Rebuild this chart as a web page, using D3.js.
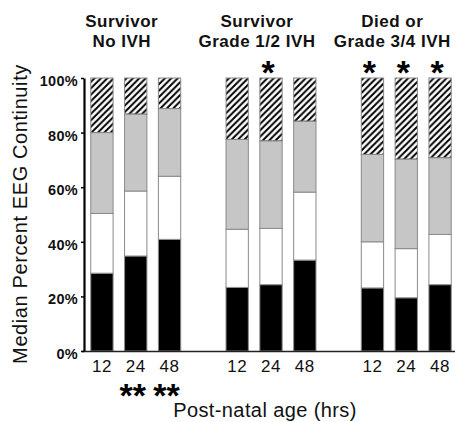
<!DOCTYPE html>
<html>
<head>
<meta charset="utf-8">
<script src="https://cdn.jsdelivr.net/npm/d3@7"></script>
<style>
  body { margin: 0; background: #fff; }
  svg { display: block; font-family: "Liberation Sans", Arial, sans-serif; }
</style>
</head>
<body>
<script>
// groups and time points
var groupTitles = [["Survivor", "No IVH"], ["Survivor", "Grade 1/2 IVH"], ["Died or", "Grade 3/4 IVH"]];
var hours = ["12", "24", "48"];

// segment sizes (percent), bottom to top, one value per bar
var blackSeg   = [28.5, 34.8, 40.9, 23.3, 24.3, 33.3, 23.1, 19.5, 24.3];
var whiteSeg   = [21.9, 23.8, 23.1, 21.3, 20.6, 24.9, 16.9, 18.0, 18.4];
var graySeg    = [29.6, 28.2, 24.8, 32.9, 32.1, 26.0, 32.0, 32.8, 28.1];
var hatchedSeg = [20.0, 13.2, 11.2, 22.5, 23.0, 15.8, 28.0, 29.7, 29.2];

var yTicks = [0, 20, 40, 60, 80, 100];

// significance marks: bar index -> text
var starsAbove = [{bar: 4, text: "*"}, {bar: 6, text: "*"}, {bar: 7, text: "*"}, {bar: 8, text: "*"}];
var starsBelow = [{bar: 1, text: "**"}, {bar: 2, text: "**"}];

var width = 455, height = 422;
var font = "'Liberation Sans', Arial, sans-serif";

var svg = d3.select("body").append("svg")
    .attr("width", width)
    .attr("height", height);

// hatch pattern
var defs = svg.append("defs");
defs.append("pattern")
    .attr("id", "hatch")
    .attr("patternUnits", "userSpaceOnUse")
    .attr("width", 6.4)
    .attr("height", 6.4)
  .append("path")
    .attr("d", "M0,6.4 L6.4,0 M-1.6,1.6 L1.6,-1.6 M4.8,8 L8,4.8")
    .attr("stroke", "#000")
    .attr("stroke-width", 2);

// bars flattened: slot index leaves a gap between groups
var bars = [];
groupTitles.forEach(function(g, gi) {
  hours.forEach(function(h, hi) {
    bars.push({group: gi, hour: h, slot: gi * 4 + hi});
  });
});
bars.forEach(function(d, i) {
  d.black = blackSeg[i];
  d.white = whiteSeg[i];
  d.gray = graySeg[i];
  d.hatched = hatchedSeg[i];
});

var xScale = d3.scaleBand()
    .domain(d3.range(11))
    .range([84, 458])
    .paddingInner(0.34)
    .paddingOuter(0.2);

var yScale = d3.scaleLinear()
    .domain([0, 100])
    .range([351, 78]);

var layers = ["black", "white", "gray", "hatched"];
var fills = {black: "#000", white: "#fff", gray: "#c6c6c6", hatched: "url(#hatch)"};

var stacked = d3.stack().keys(layers)(bars);

// white backing for the hatched segments
svg.append("g")
  .selectAll("rect")
  .data(stacked[3])
  .enter().append("rect")
    .attr("x", function(d) { return xScale(d.data.slot); })
    .attr("width", xScale.bandwidth())
    .attr("y", function(d) { return yScale(d[1]); })
    .attr("height", function(d) { return yScale(d[0]) - yScale(d[1]); })
    .attr("fill", "#fff");

var layerG = svg.append("g").attr("id", "bars")
  .selectAll("g")
  .data(stacked)
  .enter().append("g")
    .attr("fill", function(d) { return fills[d.key]; });

layerG.selectAll("rect")
  .data(function(d) { return d; })
  .enter().append("rect")
    .attr("x", function(d) { return xScale(d.data.slot); })
    .attr("width", xScale.bandwidth())
    .attr("y", function(d) { return yScale(d[1]); })
    .attr("height", function(d) { return yScale(d[0]) - yScale(d[1]); })
    .attr("stroke", "#8a8a8a")
    .attr("stroke-width", 1);

// x axis
var xAxis = svg.append("g")
    .attr("transform", "translate(0," + yScale(0) + ")")
    .call(d3.axisBottom(xScale)
        .tickValues(bars.map(function(d) { return d.slot; }))
        .tickFormat(function(s) { return bars.find(function(b) { return b.slot == s; }).hour; })
        .tickSize(0)
        .tickPadding(8.5));
xAxis.select(".domain")
    .attr("d", "M82,0.5H455")
    .attr("stroke", "#222")
    .attr("stroke-width", 1.6);
xAxis.selectAll("text")
    .attr("font-size", 17)
    .attr("font-family", font)
    .attr("letter-spacing", "0.5px")
    .attr("fill", "#111");

// y axis
var yAxis = svg.append("g")
    .attr("transform", "translate(84,0)")
    .call(d3.axisLeft(yScale)
        .tickValues(yTicks)
        .tickFormat(function(d) { return d + "%"; })
        .tickSize(3)
        .tickSizeOuter(0)
        .tickPadding(3));
yAxis.select(".domain")
    .attr("stroke", "#000")
    .attr("stroke-width", 2.2);
yAxis.selectAll(".tick line")
    .attr("stroke-width", 1.5);
yAxis.selectAll("text")
    .attr("font-size", 14.5)
    .attr("font-weight", "bold")
    .attr("font-family", font)
    .attr("letter-spacing", "0.3px")
    .attr("dy", "0.52em")
    .attr("fill", "#111");

// group titles
var titles = svg.append("g")
  .selectAll("text")
  .data(groupTitles)
  .enter().append("text")
    .attr("text-anchor", "middle")
    .attr("font-size", 17)
    .attr("font-weight", "bold")
    .attr("letter-spacing", "0.5px")
    .attr("fill", "#111")
    .attr("transform", function(d, i) {
      return "translate(" + (xScale(i * 4 + 1) + xScale.bandwidth() / 2 - 14) + ",27)";
    });
titles.selectAll("tspan")
  .data(function(d) { return d; })
  .enter().append("tspan")
    .attr("x", 0)
    .attr("y", function(d, i) { return i * 19.5; })
    .text(function(d) { return d; });

// stars
svg.append("g")
  .selectAll("text")
  .data(starsAbove)
  .enter().append("text")
    .attr("text-anchor", "middle")
    .attr("font-size", 34)
    .attr("font-weight", "bold")
    .attr("x", function(d) { return xScale(d.bar + bars[d.bar].group) + xScale.bandwidth() / 2 - 3; })
    .attr("y", 84)
    .text(function(d) { return d.text; });

svg.append("g")
  .selectAll("text")
  .data(starsBelow)
  .enter().append("text")
    .attr("text-anchor", "middle")
    .attr("font-size", 34)
    .attr("font-weight", "bold")
    .attr("x", function(d) { return xScale(d.bar + bars[d.bar].group) + xScale.bandwidth() / 2 - 3; })
    .attr("y", 406.5)
    .text(function(d) { return d.text; });

// axis titles
svg.append("text")
    .attr("text-anchor", "middle")
    .attr("font-size", 20)
    .attr("letter-spacing", "0.4px")
    .attr("fill", "#111")
    .attr("x", 265)
    .attr("y", 417)
    .text("Post-natal age (hrs)");

svg.append("text")
    .attr("text-anchor", "middle")
    .attr("font-size", 20)
    .attr("letter-spacing", "0.6px")
    .attr("fill", "#111")
    .attr("transform", "translate(27,214) rotate(-90)")
    .text("Median Percent EEG Continuity");
</script>
</body>
</html>
